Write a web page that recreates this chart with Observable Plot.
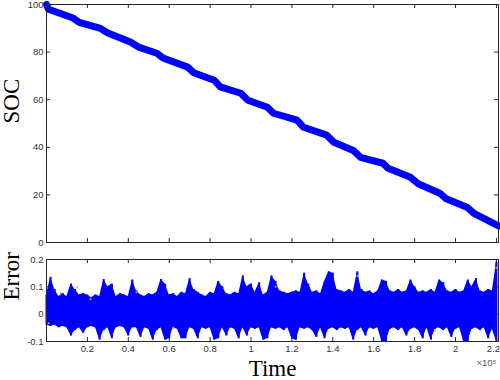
<!DOCTYPE html>
<html><head><meta charset="utf-8">
<script src="https://cdn.jsdelivr.net/npm/d3@7"></script>
<script src="https://cdn.jsdelivr.net/npm/@observablehq/plot@0.6"></script>
<style>body{margin:0;background:#fff}#chart svg{display:block}</style>
</head><body><div id="chart"></div>
<script>
// ---- data (time in units of 1e5) ----
const socT = [0, 0.01, 0.13, 0.16, 0.26, 0.30, 0.41, 0.45, 0.54, 0.57, 0.69, 0.72, 0.82, 0.85, 0.95, 0.985, 1.08, 1.11, 1.225, 1.257, 1.37, 1.405, 1.50, 1.535, 1.645, 1.67, 1.78, 1.815, 1.925, 1.952, 2.058, 2.09, 2.21];
const socV = [100, 98, 94.3, 92.5, 90.1, 88.0, 84.2, 82.1, 79.5, 77.5, 73.7, 71.3, 68.2, 65.4, 62.7, 59.8, 56.8, 54.3, 51.4, 48.4, 45.1, 42.1, 38.7, 35.8, 33.3, 31.2, 27.4, 24.8, 20.6, 18.5, 14.7, 12.2, 7.0];

const errT = [0, 0.02, 0.04, 0.06, 0.08, 0.1, 0.12, 0.14, 0.16, 0.18, 0.2, 0.22, 0.24, 0.26, 0.28, 0.3, 0.32, 0.34, 0.36, 0.38, 0.4, 0.42, 0.44, 0.46, 0.48, 0.5, 0.52, 0.54, 0.56, 0.58, 0.6, 0.62, 0.64, 0.66, 0.68, 0.7, 0.72, 0.74, 0.76, 0.78, 0.8, 0.82, 0.84, 0.86, 0.88, 0.9, 0.92, 0.94, 0.96, 0.98, 1, 1.02, 1.04, 1.06, 1.08, 1.1, 1.12, 1.14, 1.16, 1.18, 1.2, 1.22, 1.24, 1.26, 1.28, 1.3, 1.32, 1.34, 1.36, 1.38, 1.4, 1.42, 1.44, 1.46, 1.48, 1.5, 1.52, 1.54, 1.56, 1.58, 1.6, 1.62, 1.64, 1.66, 1.68, 1.7, 1.72, 1.74, 1.76, 1.78, 1.8, 1.82, 1.84, 1.86, 1.88, 1.9, 1.92, 1.94, 1.96, 1.98, 2, 2.02, 2.04, 2.06, 2.08, 2.1, 2.12, 2.14, 2.16, 2.18, 2.2];
const errHi = [
  0.07, 0.135, 0.09, 0.065, 0.075, 0.065, 0.11, 0.09, 0.07, 0.075,
  0.07, 0.06, 0.07, 0.065, 0.127, 0.1, 0.11, 0.065, 0.075, 0.07,
  0.065, 0.125, 0.085, 0.07, 0.065, 0.075, 0.07, 0.08, 0.127, 0.11,
  0.07, 0.075, 0.065, 0.08, 0.075, 0.13, 0.09, 0.08, 0.07, 0.065,
  0.08, 0.075, 0.12, 0.1, 0.075, 0.07, 0.08, 0.075, 0.14, 0.1,
  0.11, 0.08, 0.115, 0.07, 0.08, 0.14, 0.12, 0.085, 0.08, 0.075,
  0.08, 0.085, 0.08, 0.15, 0.11, 0.08, 0.085, 0.075, 0.12, 0.155,
  0.15, 0.09, 0.085, 0.08, 0.09, 0.08, 0.155, 0.09, 0.08, 0.085,
  0.075, 0.085, 0.125, 0.12, 0.085, 0.08, 0.09, 0.08, 0.085, 0.125,
  0.1, 0.08, 0.085, 0.08, 0.09, 0.08, 0.125, 0.115, 0.085, 0.08,
  0.09, 0.08, 0.085, 0.125, 0.1, 0.13, 0.085, 0.08, 0.09, 0.085,
  0.19];
const errLo = [
  -0.04, -0.045, -0.04, -0.05, -0.045, -0.05, -0.08, -0.06, -0.05, -0.07,
  -0.05, -0.045, -0.05, -0.095, -0.06, -0.05, -0.09, -0.05, -0.045, -0.05,
  -0.08, -0.05, -0.05, -0.085, -0.05, -0.055, -0.095, -0.06, -0.05, -0.095,
  -0.09, -0.05, -0.055, -0.09, -0.09, -0.05, -0.055, -0.09, -0.05, -0.055,
  -0.05, -0.095, -0.09, -0.05, -0.08, -0.05, -0.055, -0.09, -0.05, -0.08,
  -0.05, -0.055, -0.05, -0.095, -0.09, -0.05, -0.055, -0.05, -0.06, -0.05,
  -0.09, -0.095, -0.05, -0.055, -0.05, -0.06, -0.085, -0.05, -0.09, -0.055,
  -0.05, -0.06, -0.05, -0.055, -0.05, -0.095, -0.06, -0.05, -0.08, -0.05,
  -0.055, -0.05, -0.1, -0.1, -0.055, -0.05, -0.06, -0.05, -0.08, -0.055,
  -0.05, -0.06, -0.09, -0.05, -0.095, -0.055, -0.05, -0.06, -0.05, -0.085,
  -0.055, -0.05, -0.1, -0.1, -0.055, -0.05, -0.06, -0.05, -0.09, -0.055,
  -0.1];
const orangeT = [0.01, 0.07, 0.15, 0.215, 0.44, 0.62, 1.12, 1.52, 1.9, 2.2];
const orangeV = [-0.033, 0.077, 0.098, 0.055, 0.08, -0.05, 0.1, 0.14, -0.06, 0.17];

const xTicks = [0.2, 0.4, 0.6, 0.8, 1, 1.2, 1.4, 1.6, 1.8, 2, 2.2];
const xTickLabels = ["0.2", "0.4", "0.6", "0.8", "1", "1.2", "1.4", "1.6", "1.8", "2", "2.2"];
const socTicks = [0, 20, 40, 60, 80, 100];
const errTicks = [-0.1, 0, 0.1, 0.2];
const errTickLabels = ["-0.1", "0", "0.1", "0.2"];

// ---- tables ----
const soc = socT.map((t, i) => ({t, v: socV[i]}));
const errBars = errT.map((t, i) => ({t, lo: errLo[i], hi: errHi[i]}));
const orange = orangeT.map((t, i) => ({t, e: orangeV[i]}));
const xLab = xTicks.map((t, i) => ({t, label: xTickLabels[i]}));

const AX = "#262626";
const sans = "'Liberation Sans', Arial, Helvetica, sans-serif";
const serif = "'Liberation Serif', 'Times New Roman', serif";
const baseStyle = {fontFamily: sans, fontSize: "9.5px", color: "#333", background: "#fff"};

const W = 500, ML = 46, MR = 2;
const plotW = W - ML - MR;

// ---- top panel ----
const H1 = 250, MT1 = 4, MB1 = 8, ph1 = H1 - MT1 - MB1;
const topChart = Plot.plot({
  width: W, height: H1, marginLeft: ML, marginRight: MR, marginTop: MT1, marginBottom: MB1,
  x: {domain: [0, 2.21], axis: null},
  y: {domain: [0, 100], axis: null},
  style: baseStyle,
  marks: [
    Plot.line(soc, {x: "t", y: "v", stroke: "#0000ff", strokeWidth: 7, strokeLinejoin: "round", strokeLinecap: "round"}),
    Plot.frame({stroke: AX, strokeWidth: 1}),
    Plot.ruleX(xTicks, {x: d => d, insetTop: ph1 - 4, stroke: AX}),
    Plot.ruleX(xTicks, {x: d => d, insetBottom: ph1 - 4, stroke: AX}),
    Plot.ruleY(socTicks, {y: d => d, insetRight: plotW - 4, stroke: AX}),
    Plot.ruleY(socTicks, {y: d => d, insetLeft: plotW - 4, stroke: AX}),
    Plot.axisY({ticks: socTicks, tickSize: 0, tickPadding: 3, tickFormat: String, label: null, fill: "#333"}),
    Plot.text(["SOC"], {frameAnchor: "left", dx: -35, rotate: -90, fontFamily: serif, fontSize: 23, fill: "#000"})
  ]
});

// ---- bottom panel ----
const H2 = 130, MT2 = 9, MB2 = 39, ph2 = H2 - MT2 - MB2;
const botChart = Plot.plot({
  width: W, height: H2, marginLeft: ML, marginRight: MR, marginTop: MT2, marginBottom: MB2,
  x: {domain: [0, 2.21], axis: null},
  y: {domain: [-0.1, 0.2], axis: null},
  style: baseStyle,
  marks: [
    Plot.areaY(errBars, {x: "t", y1: "lo", y2: "hi", fill: "#0000ff", curve: "linear"}),
    Plot.ruleX(errBars, {x: "t", y1: "lo", y2: "hi", stroke: "#0000ff", strokeWidth: 2}),
    Plot.dot(orange, {x: "t", y: "e", r: 1, fill: "#f0a020", stroke: null}),
    Plot.frame({stroke: AX, strokeWidth: 1}),
    Plot.ruleX(xTicks, {x: d => d, insetTop: ph2 - 4, stroke: AX}),
    Plot.ruleX(xTicks, {x: d => d, insetBottom: ph2 - 4, stroke: AX}),
    Plot.ruleY(errTicks, {y: d => d, insetRight: plotW - 4, stroke: AX}),
    Plot.ruleY(errTicks, {y: d => d, insetLeft: plotW - 4, stroke: AX}),
    Plot.axisY({ticks: errTicks, tickSize: 0, tickPadding: 3, tickFormat: (d, i) => errTickLabels[i], label: null, fill: "#333"}),
    Plot.text(xLab.slice(0, -1), {x: "t", text: "label", frameAnchor: "bottom", dy: 10, fill: "#333"}),
    Plot.text(xLab.slice(-1), {x: "t", text: "label", frameAnchor: "bottom", dy: 10, dx: -3, fill: "#333"}),
    Plot.text(["Error"], {frameAnchor: "left", dx: -35, rotate: -90, fontFamily: serif, fontSize: 23, fill: "#000"}),
    Plot.text(["Time"], {frameAnchor: "bottom", dy: 34, fontFamily: serif, fontSize: 23, fill: "#000"}),
    Plot.text(["×10⁵"], {frameAnchor: "bottom-right", dy: 24, dx: -2, textAnchor: "end", fontSize: 9.5, fill: "#555"})
  ]
});

const root = document.getElementById("chart");
root.appendChild(topChart);
root.appendChild(botChart);
</script></body></html>
